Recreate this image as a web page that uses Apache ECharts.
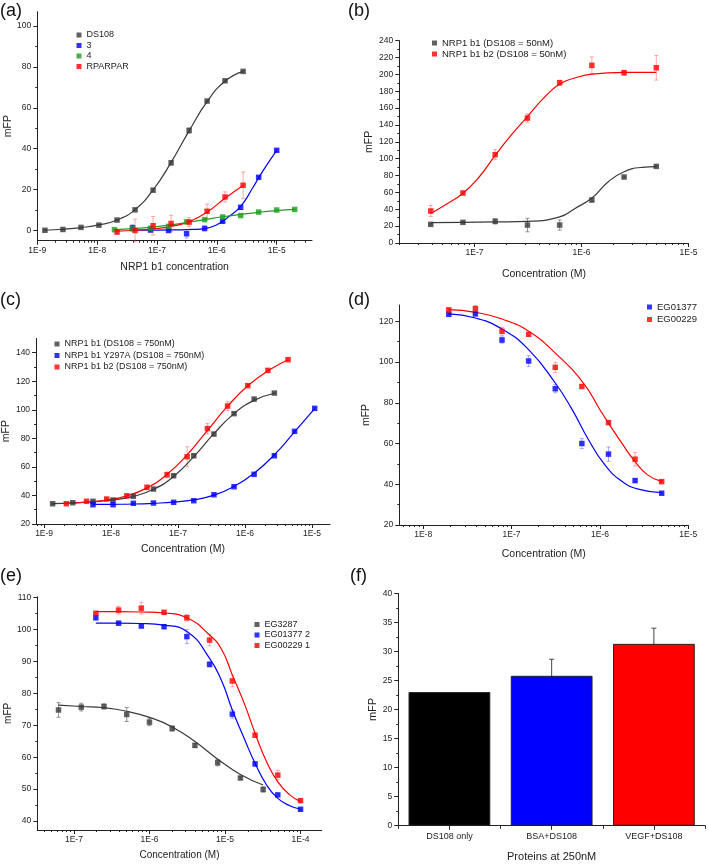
<!DOCTYPE html>
<html><head><meta charset="utf-8">
<script src="https://cdn.jsdelivr.net/npm/echarts@6/dist/echarts.min.js"></script>
<style>html,body{margin:0;padding:0;background:#fff}#c{width:709px;height:864px}</style>
</head><body><div id="c"></div>
<script>
// ---------- Panel (a) ----------
const concA_DS108 = [1.34e-9, 2.68e-9, 5.37e-9, 1.07e-8, 2.15e-8, 4.3e-8, 8.6e-8, 1.72e-7, 3.44e-7, 6.87e-7, 1.37e-6, 2.75e-6];
const valA_DS108  = [0.1, 0.5, 1.5, 2.6, 5.1, 10.1, 19.7, 33.1, 48.9, 63.3, 73.2, 77.8];
const errA_DS108  = [0.3, 0.3, 0.3, 0.3, 0.4, 0.5, 0.8, 1.0, 1.2, 0.5, 0.5, 0.5];
const fitA_DS108  = [[1.34e-9,0.1],[2.68e-9,0.6],[5.37e-9,1.4],[1.07e-8,2.7],[2.15e-8,5.1],[4.3e-8,10.2],[8.6e-8,19.8],[1.72e-7,33.3],[3.44e-7,48.7],[6.87e-7,63.0],[1.37e-6,73.0],[2.75e-6,77.8]];
const concA_3 = [3.9e-8, 7.8e-8, 1.56e-7, 3.125e-7, 6.25e-7, 1.25e-6, 2.5e-6, 5e-6, 1e-5];
const valA_3  = [1.3, 0.2, 0.0, -1.6, 1.0, 4.5, 11.3, 26.0, 39.2];
const errA_3  = [1.5, 0.5, 0.4, 2.1, 1.2, 0.8, 1.0, 0.5, 0.5];
const fitA_3  = [[3.9e-8,0.2],[1e-7,0.2],[2e-7,0.3],[4e-7,0.5],[6.25e-7,0.9],[1e-6,2.8],[1.5e-6,6.2],[2.5e-6,11.8],[4e-6,21],[6e-6,29.5],[1e-5,39.2]];
const concA_4 = [1.95e-8, 3.9e-8, 7.8e-8, 1.56e-7, 3.125e-7, 6.25e-7, 1.25e-6, 2.5e-6, 5e-6, 1e-5, 2e-5];
const valA_4  = [0.4, 0.8, 1.1, 2.0, 4.2, 5.3, 6.6, 7.3, 9.0, 10.0, 10.3];
const errA_4  = [0.4, 0.4, 0.4, 0.4, 0.5, 0.5, 0.5, 0.4, 0.4, 0.4, 0.4];
const fitA_4  = [[1.95e-8,0.4],[4e-8,0.9],[8e-8,1.6],[1.6e-7,2.6],[3.1e-7,3.9],[6.25e-7,5.3],[1.25e-6,6.7],[2.5e-6,7.9],[5e-6,8.9],[1e-5,9.7],[2e-5,10.3]];
const concA_R = [2.15e-8, 4.3e-8, 8.6e-8, 1.72e-7, 3.44e-7, 6.87e-7, 1.37e-6, 2.75e-6];
const valA_R  = [-0.8, 0.0, 2.3, 3.4, 4.1, 9.4, 16.4, 22.1];
const errA_R  = [0.8, 5.5, 4.5, 4.0, 2.2, 3.5, 2.5, 6.5];
const fitA_R  = [[2.15e-8,-0.3],[4.3e-8,0.1],[8.6e-8,0.8],[1.72e-7,2.0],[3.44e-7,4.3],[6.87e-7,9.0],[1.37e-6,15.8],[2.75e-6,22.0]];
// ---------- Panel (b) ----------
const concB = [3.9e-8, 7.8e-8, 1.56e-7, 3.125e-7, 6.25e-7, 1.25e-6, 2.5e-6, 5e-6];
const valB_b1 = [22.1, 24.5, 25.7, 21.3, 21.3, 51.0, 78.3, 90.9];
const errB_b1 = [1.0, 1.0, 3.0, 8.0, 6.0, 2.0, 1.0, 1.0];
const fitB_b1 = [[3.9e-8,24.1],[7.8e-8,24.5],[1.56e-7,25.0],[3.125e-7,25.7],[6.25e-7,31],[8.7e-7,41],[1.25e-6,53.4],[1.78e-6,72.7],[2.5e-6,84.6],[3.66e-6,89.7],[5e-6,90.5]];
const valB_b12 = [38.0, 59.3, 104.8, 148.2, 190.1, 210.7, 202.0, 207.9];
const errB_b12 = [6.5, 2.0, 6.0, 5.0, 3.0, 10.0, 3.0, 14.6];
const fitB_b12 = [[3.9e-8,35],[5.5e-8,46.3],[7.8e-8,59],[1.1e-7,78],[1.56e-7,104],[2.2e-7,128],[3.125e-7,150],[4.4e-7,171.6],[6.25e-7,188.6],[8.8e-7,196],[1.25e-6,200.4],[2.5e-6,202.4],[5e-6,202.4]];
// ---------- Panel (c) ----------
const concC_b1 = [1.34e-9, 2.68e-9, 5.37e-9, 1.07e-8, 2.15e-8, 4.3e-8, 8.6e-8, 1.72e-7, 3.44e-7, 6.87e-7, 1.37e-6, 2.75e-6];
const valC_b1  = [34.2, 34.9, 35.9, 36.8, 39.4, 44.5, 53.8, 67.8, 83.0, 97.3, 107.5, 111.7];
const errC_b1  = [0.5, 0.5, 0.5, 0.5, 0.5, 0.8, 0.8, 1.0, 1.0, 0.8, 0.6, 0.6];
const fitC_b1  = [[1.34e-9,34.3],[2.68e-9,34.8],[5.37e-9,35.6],[1.07e-8,36.9],[2.15e-8,39.3],[4.3e-8,44.3],[8.6e-8,53.3],[1.72e-7,67.2],[3.44e-7,83.3],[6.87e-7,97.3],[1.37e-6,106.6],[2.75e-6,111.6]];
const concC_Y = [5.37e-9, 1.07e-8, 2.15e-8, 4.3e-8, 8.6e-8, 1.72e-7, 3.44e-7, 6.87e-7, 1.37e-6, 2.75e-6, 5.5e-6, 1.1e-5];
const valC_Y  = [33.5, 33.5, 34.5, 34.7, 35.2, 36.3, 40.5, 46.1, 54.8, 67.8, 84.9, 101.0];
const errC_Y  = [0.5, 0.5, 0.5, 0.5, 0.5, 0.5, 0.6, 0.6, 0.6, 0.6, 0.6, 0.6];
const fitC_Y  = [[5.37e-9,33.7],[1.07e-8,33.8],[2.15e-8,34.0],[4.3e-8,34.5],[8.6e-8,35.3],[1.72e-7,36.9],[3.44e-7,40.2],[6.87e-7,46.3],[1.37e-6,55.5],[2.75e-6,68.5],[5.5e-6,84.5],[1.1e-5,100.8]];
const concC_b12 = [2.15e-9, 4.3e-9, 8.6e-9, 1.72e-8, 3.44e-8, 6.87e-8, 1.37e-7, 2.75e-7, 5.5e-7, 1.1e-6, 2.2e-6, 4.4e-6];
const valC_b12  = [34.2, 35.9, 37.5, 39.8, 45.7, 54.5, 67.1, 86.8, 102.6, 116.9, 127.6, 135.1];
const errC_b12  = [0.5, 0.5, 0.5, 0.8, 1.5, 2.0, 7.0, 3.7, 3.0, 1.0, 1.0, 0.8];
const fitC_b12  = [[2.15e-9,34.5],[4.3e-9,35.3],[8.6e-9,36.8],[1.72e-8,39.7],[3.44e-8,45.3],[6.87e-8,54.8],[1.37e-7,68.5],[2.75e-7,85.5],[5.5e-7,102.5],[1.1e-6,116.8],[2.2e-6,127.3],[4.4e-6,135.1]];
// ---------- Panel (d) ----------
const concD = [1.95e-8, 3.9e-8, 7.8e-8, 1.56e-7, 3.125e-7, 6.25e-7, 1.25e-6, 2.5e-6, 5e-6];
const valD_1377 = [123.4, 123.6, 110.8, 100.5, 86.9, 60.0, 54.8, 41.8, 35.6];
const errD_1377 = [0.5, 0.5, 1.5, 2.6, 2.0, 2.5, 3.5, 0.8, 0.5];
const fitD_1377 = [[1.95e-8,123.6],[3.9e-8,121.6],[7.8e-8,116.2],[1.56e-7,106.1],[3.125e-7,89.7],[4.8e-7,77],[7.4e-7,62],[1.14e-6,49.5],[1.77e-6,41.5],[2.72e-6,37.6],[5e-6,35.9]];
const valD_229 = [125.6, 126.2, 115.1, 113.6, 97.4, 88.0, 70.3, 52.3, 41.3];
const errD_229 = [0.8, 1.5, 2.0, 0.8, 2.5, 0.8, 0.8, 3.3, 0.5];
const fitD_229 = [[1.95e-8,125.7],[3.9e-8,124.4],[7.8e-8,121.1],[1.56e-7,115.1],[3.125e-7,104.4],[6.5e-7,89.7],[1e-6,76.6],[1.25e-6,70],[1.77e-6,60.2],[2.5e-6,51.1],[3.46e-6,44.6],[5e-6,41.3]];
// ---------- Panel (e) ----------
const concE_3287 = [6.25e-8, 1.25e-7, 2.5e-7, 5e-7, 1e-6, 2e-6, 4e-6, 8e-6, 1.6e-5, 3.2e-5];
const valE_3287  = [74.8, 75.7, 75.9, 73.4, 71.0, 69.0, 63.7, 58.3, 53.5, 49.9];
const errE_3287  = [2.3, 1.2, 0.8, 2.2, 1.1, 0.8, 0.6, 1.0, 0.4, 0.8];
const fitE_3287  = [[6.25e-8,76.3],[1.25e-7,75.9],[2.5e-7,75.5],[5e-7,74.4],[1e-6,72.5],[2e-6,69.5],[4e-6,64.9],[8e-6,59.4],[1.6e-5,54.6],[3.2e-5,51.3]];
const concE = [1.95e-7, 3.9e-7, 7.8e-7, 1.56e-6, 3.125e-6, 6.25e-6, 1.25e-5, 2.5e-5, 5e-5, 1e-4];
const valE_1377 = [103.7, 102.0, 101.1, 100.9, 97.8, 89.1, 73.5, 57.9, 48.2, 43.7];
const errE_1377 = [0.6, 0.6, 0.4, 0.6, 2.2, 0.8, 1.3, 0.6, 0.4, 0.4];
const fitE_1377 = [[1.95e-7,102],[3.9e-7,102],[7.8e-7,101.9],[1.56e-6,101.4],[3.125e-6,99.4],[6.25e-6,91],[9.1e-6,83.7],[1.25e-5,74.8],[1.83e-5,65.4],[2.5e-5,58.1],[3.55e-5,51.3],[5e-5,47.1],[7.2e-5,44.8],[1e-4,43.7]];
const valE_229 = [105.1, 106.1, 106.7, 105.4, 103.7, 96.7, 83.9, 66.9, 54.4, 46.4];
const errE_229 = [0.6, 1.2, 1.8, 0.6, 1.0, 1.8, 1.8, 0.6, 1.5, 0.5];
const fitE_229 = [[1.95e-7,105.6],[3.9e-7,105.6],[7.8e-7,105.5],[1.56e-6,105.2],[3.125e-6,103.7],[6.25e-6,98.3],[9.1e-6,93.6],[1.25e-5,85.8],[1.83e-5,76.4],[2.5e-5,67.5],[3.55e-5,58.6],[5e-5,52.3],[7.2e-5,48.2],[1e-4,46.1]];
// ---------- Panel (f) ----------
const catsF = ['DS108 only', 'BSA+DS108', 'VEGF+DS108'];
const valsF = [23.0, 25.8, 31.3];
const errsF = [0, 2.85, 2.7];

const FONT = '"Liberation Sans", Arial, Helvetica, sans-serif';
const AX = '#222';
const GRAY = '#3a3a3a', BLUE = '#0000ff', RED = '#ff0000', GREEN = '#1ea01e';
const GRAY_E = '#888888', BLUE_E = 'rgba(80,80,255,0.55)', RED_E = 'rgba(255,80,80,0.55)', GREEN_E = 'rgba(30,160,30,0.5)';

const grids = [], xAxes = [], yAxes = [], series = [], legends = [], titles = [];

function logMinor(min, max) {
  const out = [];
  for (let n = Math.floor(min); n <= Math.ceil(max); n++)
    for (let k = 2; k <= 9; k++) { const v = n + Math.log10(k); if (v > min + 1e-6 && v < max - 1e-6) out.push(v); }
  return out;
}
function intsIn(min, max) { const o = []; for (let v = Math.ceil(min - 1e-9); v <= max + 1e-9; v++) o.push(v); return o; }
function stepIn(min, max, s, offset) { const o = []; let v = Math.ceil((min - offset) / s - 1e-9) * s + offset; for (; v <= max + 1e-9; v += s) o.push(+v.toFixed(6)); return o; }

function yAxesFor(gi, o) {
  const maj = stepIn(o.ymin, o.ymax, o.ystep, 0);
  const min = stepIn(o.ymin, o.ymax, o.ystep, o.ystep / 2).filter(v => v > o.ymin + 1e-6 && v < o.ymax - 1e-6);
  const yi = yAxes.length;
  yAxes.push({type: 'value', gridIndex: gi, min: o.ymin, max: o.ymax, position: 'left',
    name: 'mFP', nameLocation: 'middle', nameGap: o.ygap, nameRotate: 90,
    nameTextStyle: {fontSize: o.nfs, color: AX, fontFamily: FONT},
    axisLine: {show: true, onZero: false, lineStyle: {color: AX, width: 1}},
    axisTick: {show: true, customValues: maj, length: 4, lineStyle: {color: AX}},
    axisLabel: {show: true, customValues: maj, fontSize: o.tfs, color: AX, fontFamily: FONT, margin: 6},
    splitLine: {show: false}});
  yAxes.push({type: 'value', gridIndex: gi, min: o.ymin, max: o.ymax, position: 'left',
    axisLine: {show: false, onZero: false}, axisTick: {show: true, customValues: min, length: 2, lineStyle: {color: AX}},
    axisLabel: {show: false}, splitLine: {show: false}});
  return yi;
}

function panel(o) {
  const gi = grids.length;
  grids.push({left: o.left, top: o.top, width: o.width, height: o.height});
  const xi = xAxes.length;
  const majX = intsIn(o.xmin, o.xmax);
  xAxes.push({type: 'value', gridIndex: gi, min: o.xmin, max: o.xmax, position: 'bottom',
    name: o.xname, nameLocation: 'middle', nameGap: o.xgap,
    nameTextStyle: {fontSize: o.nfs, color: AX, fontFamily: FONT},
    axisLine: {show: true, onZero: false, lineStyle: {color: AX, width: 1}},
    axisTick: {show: true, customValues: majX, length: 4, lineStyle: {color: AX}},
    axisLabel: {show: true, customValues: majX, formatter: v => '1E' + Math.round(v), fontSize: o.tfs, color: AX, fontFamily: FONT, margin: 5},
    splitLine: {show: false}});
  xAxes.push({type: 'value', gridIndex: gi, min: o.xmin, max: o.xmax, position: 'bottom',
    axisLine: {show: false, onZero: false}, axisTick: {show: true, customValues: logMinor(o.xmin, o.xmax), length: 2, lineStyle: {color: AX}},
    axisLabel: {show: false}, splitLine: {show: false}});
  const yi = yAxesFor(gi, o);
  titles.push({text: o.label, left: o.lx, top: o.ly, padding: 0, textStyle: {fontSize: 18, fontWeight: 'normal', color: '#111', fontFamily: FONT}});
  return {x: xi, y: yi};
}

function errSeries(xAxisIndex, yAxisIndex, data, color, cap) {
  return {type: 'custom', xAxisIndex, yAxisIndex, silent: true, z: 1, clip: false,
    encode: {x: 0, y: [1, 2]}, data,
    renderItem: (params, api) => {
      const x = api.value(0);
      const lo = api.coord([x, api.value(1)]);
      const hi = api.coord([x, api.value(2)]);
      const st = {stroke: color, lineWidth: 0.9};
      return {type: 'group', children: [
        {type: 'line', shape: {x1: lo[0], y1: lo[1], x2: hi[0], y2: hi[1]}, style: st},
        {type: 'line', shape: {x1: lo[0] - cap, y1: lo[1], x2: lo[0] + cap, y2: lo[1]}, style: st},
        {type: 'line', shape: {x1: hi[0] - cap, y1: hi[1], x2: hi[0] + cap, y2: hi[1]}, style: st}
      ]};
    }};
}

function group(ax, name, conc, val, err, fit, color, ecolor) {
  series.push({type: 'line', xAxisIndex: ax.x, yAxisIndex: ax.y, silent: true, z: 2,
    data: fit.map(p => [Math.log10(p[0]), p[1]]), smooth: 0.5, symbol: 'none', showSymbol: false,
    lineStyle: {color: color, width: 1.2}});
  series.push(errSeries(ax.x, ax.y, conc.map((c, i) => [Math.log10(c), val[i] - err[i], val[i] + err[i]]), ecolor, 2));
  series.push({type: 'scatter', name, xAxisIndex: ax.x, yAxisIndex: ax.y, z: 4,
    data: conc.map((c, i) => [Math.log10(c), val[i]]), symbol: 'rect', symbolSize: 5.5, itemStyle: {color: color}});
}

function legend(names, left, top, gap, fs) {
  legends.push({orient: 'vertical', left, top, padding: 0, itemWidth: 5, itemHeight: 5, itemGap: gap, icon: 'rect',
    selectedMode: false, data: names, textStyle: {fontSize: fs, color: AX, fontFamily: FONT}});
}

// (a)
const pa = panel({left: 37.3, top: 11.7, width: 274.7, height: 229, xmin: -9, xmax: -4.41, ymin: -5, ymax: 107, ystep: 20,
  xname: 'NRP1 b1 concentration', xgap: 21, ygap: 20, tfs: 8.5, nfs: 10.5, label: '(a)', lx: 0, ly: 2});
group(pa, 'DS108', concA_DS108, valA_DS108, errA_DS108, fitA_DS108, GRAY, GRAY_E);
group(pa, '3', concA_3, valA_3, errA_3, fitA_3, BLUE, BLUE_E);
group(pa, '4', concA_4, valA_4, errA_4, fitA_4, GREEN, GREEN_E);
group(pa, 'RPARPAR', concA_R, valA_R, errA_R, fitA_R, RED, RED_E);
legend(['DS108', '3', '4', 'RPARPAR'], 76.5, 30.5, 1.5, 9);

// (b)
const pb = panel({left: 399.3, top: 40.7, width: 289.2, height: 202.3, xmin: -7.703, xmax: -5, ymin: 0, ymax: 240, ystep: 20,
  xname: 'Concentration (M)', xgap: 26, ygap: 25, tfs: 8.5, nfs: 10.5, label: '(b)', lx: 348, ly: 2});
group(pb, 'NRP1 b1 (DS108 = 50nM)', concB, valB_b1, errB_b1, fitB_b1, GRAY, GRAY_E);
group(pb, 'NRP1 b1 b2 (DS108 = 50nM)', concB, valB_b12, errB_b12, fitB_b12, RED, RED_E);
legend(['NRP1 b1 (DS108 = 50nM)', 'NRP1 b1 b2 (DS108 = 50nM)'], 432, 38, 1, 9.5);

// (c)
const pc = panel({left: 34.7, top: 338.4, width: 295.3, height: 185.6, xmin: -9.12, xmax: -4.73, ymin: 20, ymax: 150, ystep: 20,
  xname: 'Concentration (M)', xgap: 20, ygap: 21, tfs: 8.5, nfs: 10.5, label: '(c)', lx: 0, ly: 291});
group(pc, 'NRP1 b1 (DS108 = 750nM)', concC_b1, valC_b1, errC_b1, fitC_b1, GRAY, GRAY_E);
group(pc, 'NRP1 b1 Y297A (DS108 = 750nM)', concC_Y, valC_Y, errC_Y, fitC_Y, BLUE, BLUE_E);
group(pc, 'NRP1 b1 b2 (DS108 = 750nM)', concC_b12, valC_b12, errC_b12, fitC_b12, RED, RED_E);
legend(['NRP1 b1 (DS108 = 750nM)', 'NRP1 b1 Y297A (DS108 = 750nM)', 'NRP1 b1 b2 (DS108 = 750nM)'], 54.5, 339.5, 2.5, 9);

// (d)
const pd = panel({left: 399.3, top: 305, width: 289, height: 220, xmin: -8.27, xmax: -5, ymin: 20, ymax: 128, ystep: 20,
  xname: 'Concentration (M)', xgap: 24, ygap: 28, tfs: 8.5, nfs: 10.5, label: '(d)', lx: 348, ly: 291});
group(pd, 'EG01377', concD, valD_1377, errD_1377, fitD_1377, BLUE, BLUE_E);
group(pd, 'EG00229', concD, valD_229, errD_229, fitD_229, RED, RED_E);
legend(['EG01377', 'EG00229'], 647, 302, 2.5, 9.5);

// (e)
const pe = panel({left: 37.3, top: 596.7, width: 284.4, height: 233.3, xmin: -7.485, xmax: -3.72, ymin: 37.2, ymax: 110.3, ystep: 10,
  xname: 'Concentration (M)', xgap: 20, ygap: 21, tfs: 8.5, nfs: 10, label: '(e)', lx: 0, ly: 567});
group(pe, 'EG3287', concE_3287, valE_3287, errE_3287, fitE_3287, GRAY, GRAY_E);
group(pe, 'EG01377 2', concE, valE_1377, errE_1377, fitE_1377, BLUE, BLUE_E);
group(pe, 'EG00229 1', concE, valE_229, errE_229, fitE_229, RED, RED_E);
legend(['EG3287', 'EG01377 2', 'EG00229 1'], 254.5, 620, 1.5, 9);

// (f) bar chart
(function () {
  const gi = grids.length;
  grids.push({left: 398.3, top: 593.3, width: 306.7, height: 232.4});
  const xi = xAxes.length;
  xAxes.push({type: 'category', gridIndex: gi, data: catsF, position: 'bottom',
    name: 'Proteins at 250nM', nameLocation: 'middle', nameGap: 26,
    nameTextStyle: {fontSize: 11, color: AX, fontFamily: FONT},
    axisLine: {show: true, onZero: false, lineStyle: {color: AX, width: 1}},
    axisTick: {show: true, alignWithLabel: true, length: 4, lineStyle: {color: AX}},
    axisLabel: {fontSize: 9, color: AX, fontFamily: FONT, margin: 6}, splitLine: {show: false}});
  xAxes.push({type: 'category', gridIndex: gi, data: catsF, position: 'bottom',
    axisLine: {show: false, onZero: false}, axisTick: {show: true, length: 3, lineStyle: {color: AX}},
    axisLabel: {show: false}, splitLine: {show: false}});
  const yi = yAxesFor(gi, {ymin: 0, ymax: 40, ystep: 5, ygap: 20, tfs: 8.5, nfs: 11});
  titles.push({text: '(f)', left: 350, top: 567, padding: 0, textStyle: {fontSize: 18, fontWeight: 'normal', color: '#111', fontFamily: FONT}});
  const colors = ['#000000', '#0000ff', '#ff0000'];
  series.push({type: 'bar', xAxisIndex: xi, yAxisIndex: yi, barWidth: '80%', z: 2,
    data: valsF.map((v, i) => ({value: v, itemStyle: {color: colors[i], borderColor: '#222', borderWidth: 1}}))});
  series.push(errSeries(xi, yi, valsF.map((v, i) => [i, v - errsF[i], v + errsF[i]]).filter((d, i) => errsF[i] > 0), '#333', 2.5));
})();

const chart = echarts.init(document.getElementById('c'), null, {renderer: 'canvas'});
chart.setOption({
  animation: false,
  backgroundColor: '#fff',
  textStyle: {fontFamily: FONT},
  title: titles,
  legend: legends,
  grid: grids,
  xAxis: xAxes,
  yAxis: yAxes,
  series: series
});
</script>
</body></html>
